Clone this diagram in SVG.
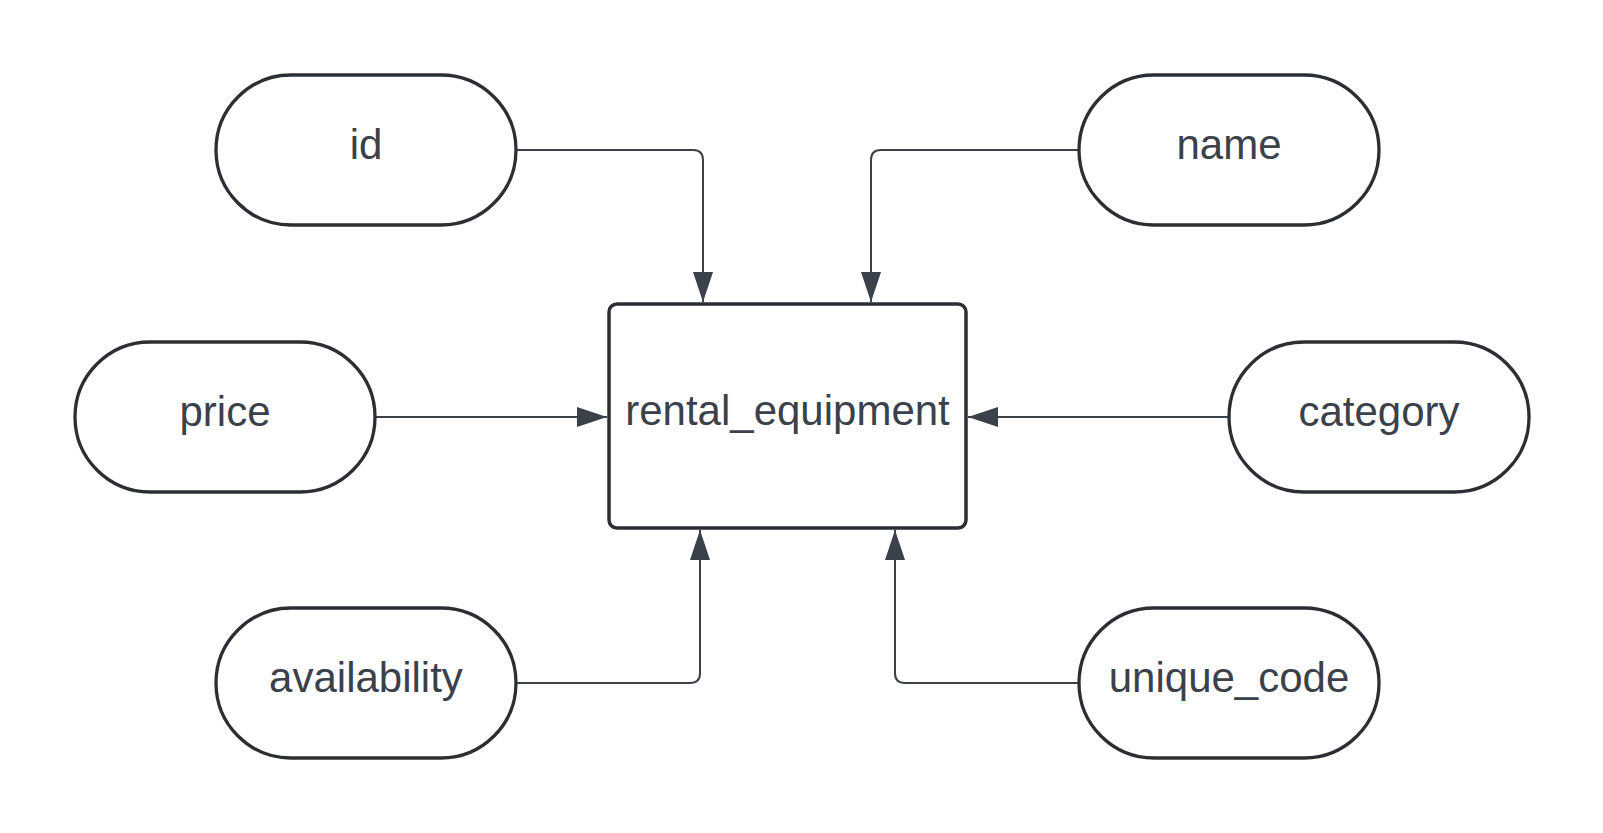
<svg xmlns="http://www.w3.org/2000/svg" width="1603" height="833" viewBox="0 0 1603 833">
  <style>
    .pill { fill: #ffffff; stroke: #2b2f34; stroke-width: 3.3; }
    .box { fill: #ffffff; stroke: #2b2f34; stroke-width: 3.5; }
    .lbl { font-family: "Liberation Sans", Arial, sans-serif; font-size: 42px; fill: #3a414a; text-anchor: middle; }
    .conn { fill: none; stroke: #3a414a; stroke-width: 2; marker-end: url(#arrow); }
  </style>
  <defs>
    <marker id="arrow" markerUnits="userSpaceOnUse" markerWidth="30" markerHeight="20" refX="30" refY="10" orient="auto">
      <path d="M0,0 L30,10 L0,20 z" fill="#3a414a"/>
    </marker>
  </defs>
  <rect width="1603" height="833" fill="#ffffff"/>
  <g id="connectors">
    <path class="conn" d="M517,150 H693 Q703,150 703,160 V302"/>
    <path class="conn" d="M1079,150 H881 Q871,150 871,160 V302"/>
    <path class="conn" d="M375,417 H607"/>
    <path class="conn" d="M1229,417 H968"/>
    <path class="conn" d="M517,683 H690 Q700,683 700,673 V530"/>
    <path class="conn" d="M1079,683 H905 Q895,683 895,673 V530"/>
  </g>
  <g id="rental_equipment">
    <rect class="box" x="609" y="304" width="357" height="224" rx="8"/>
    <text class="lbl" x="787.5" y="425">rental_equipment</text>
  </g>
  <g id="id">
    <rect class="pill" x="216" y="75" width="300" height="150" rx="75"/>
    <text class="lbl" x="366" y="159">id</text>
  </g>
  <g id="name">
    <rect class="pill" x="1079" y="75" width="300" height="150" rx="75"/>
    <text class="lbl" x="1229" y="159">name</text>
  </g>
  <g id="price">
    <rect class="pill" x="75" y="342" width="300" height="150" rx="75"/>
    <text class="lbl" x="225" y="426">price</text>
  </g>
  <g id="category">
    <rect class="pill" x="1229" y="342" width="300" height="150" rx="75"/>
    <text class="lbl" x="1379" y="426">category</text>
  </g>
  <g id="availability">
    <rect class="pill" x="216" y="608" width="300" height="150" rx="75"/>
    <text class="lbl" x="366" y="692">availability</text>
  </g>
  <g id="unique_code">
    <rect class="pill" x="1079" y="608" width="300" height="150" rx="75"/>
    <text class="lbl" x="1229" y="692">unique_code</text>
  </g>
</svg>
